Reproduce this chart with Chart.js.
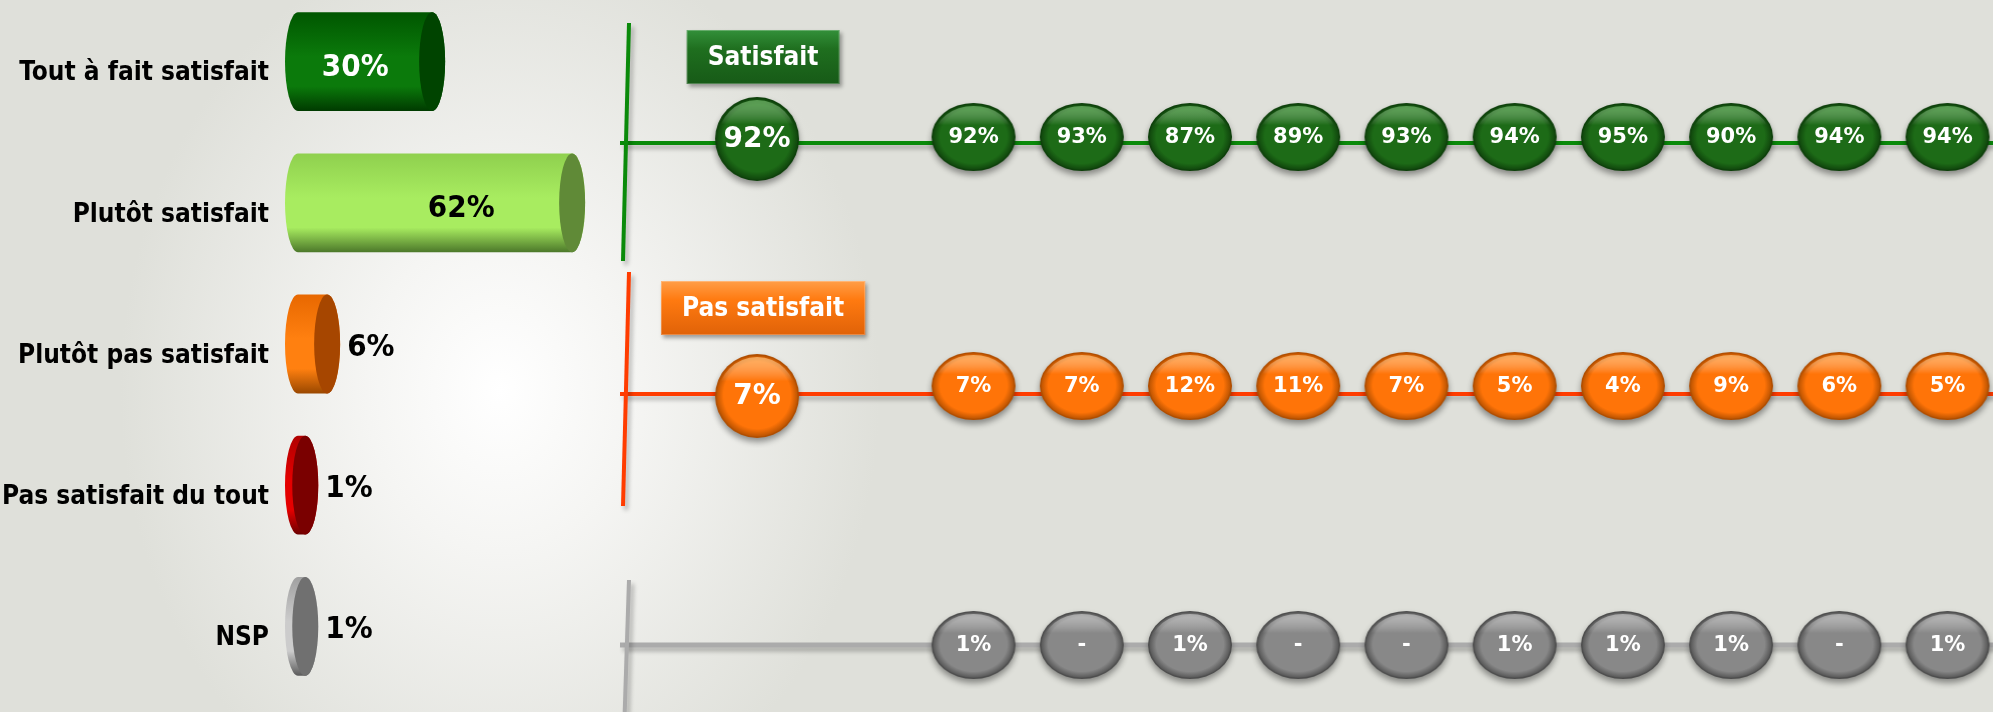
<!DOCTYPE html>
<html>
<head>
<meta charset="utf-8">
<script src="https://cdn.jsdelivr.net/npm/chart.js@4.4.0/dist/chart.umd.min.js"></script>
<style>
    html, body { margin: 0; padding: 0; }
    body {
        width: 1993px;
        height: 712px;
        overflow: hidden;
        position: relative;
        background: radial-gradient(ellipse 380px 460px at 500px 390px, #ffffff 0%, #f5f5f3 35%, #dfe0da 100%), #dfe0da;
    }
    #left { position: absolute; left: 0; top: -9px; }
    #right { position: absolute; left: 600px; top: 0; }
</style>
</head>
<body>
<canvas id="left" width="600" height="721"></canvas>
<canvas id="right" width="1393" height="712"></canvas>
<script>
// left block : distribution
const categories = ['Tout à fait satisfait', 'Plutôt satisfait', 'Plutôt pas satisfait', 'Pas satisfait du tout', 'NSP'];
const values = [30, 62, 6, 1, 1];

// right block : one row per group, one bubble per wave
const rows = ['Satisfait', 'Pas satisfait', 'NSP'];
const satisfait = [92, null, 92, 93, 87, 89, 93, 94, 95, 90, 94, 94];
const pasSatisfait = [7, null, 7, 7, 12, 11, 7, 5, 4, 9, 6, 5];
const nsp = [null, null, 1, '-', 1, '-', '-', 1, 1, 1, '-', 1];

const condensed = '"DejaVu Sans Condensed", "DejaVu Sans", sans-serif';
Chart.defaults.font.family = '"DejaVu Sans", sans-serif';

const barStyles = [
    { top: '#005600', mid: '#0b7a0b', bottom: '#003a00', cap: '#004400', text: '#ffffff' },
    { top: '#8fd04e', mid: '#a8ec60', bottom: '#4c782a', cap: '#608a37', text: '#000000' },
    { top: '#e86800', mid: '#ff8010', bottom: '#9a4800', cap: '#a64600', text: '#000000' },
    { top: '#b00000', mid: '#e40000', bottom: '#6a0000', cap: '#7a0000', text: '#000000' },
    { top: '#a0a0a0', mid: '#cccccc', bottom: '#5a5a5a', cap: '#707070', text: '#000000' }
];

const cylinders = {
    id: 'cylinders',
    afterDatasetsDraw(chart) {
        const ctx = chart.ctx;
        const meta = chart.getDatasetMeta(0);
        meta.data.forEach((bar, i) => {
            const st = barStyles[i];
            const x0 = bar.base, x1 = bar.x, yc = bar.y;
            const ry = bar.height / 2, rx = 13;
            const top = yc - ry, bot = yc + ry;
            ctx.save();
            let g = ctx.createLinearGradient(0, top, 0, bot);
            g.addColorStop(0, st.top);
            g.addColorStop(0.45, st.mid);
            g.addColorStop(0.75, st.mid);
            g.addColorStop(1, st.bottom);
            ctx.beginPath();
            ctx.moveTo(x0 + rx, top);
            ctx.lineTo(x1 - rx, top);
            ctx.ellipse(x1 - rx, yc, rx, ry, 0, -Math.PI / 2, Math.PI / 2);
            ctx.lineTo(x0 + rx, bot);
            ctx.ellipse(x0 + rx, yc, rx, ry, 0, Math.PI / 2, Math.PI * 1.5);
            ctx.closePath();
            ctx.fillStyle = g;
            ctx.fill();

            ctx.beginPath();
            ctx.ellipse(x1 - rx, yc, rx, ry, 0, 0, Math.PI * 2);
            ctx.fillStyle = st.cap;
            ctx.fill();

            ctx.font = 'bold 31px ' + condensed;
            ctx.textBaseline = 'middle';
            if (values[i] > 10) {
                ctx.fillStyle = st.text;
                ctx.textAlign = 'center';
                ctx.fillText(values[i] + '%', x0 + 0.757 * (x1 - x0) - 51, yc + 6);
            } else {
                ctx.fillStyle = '#000000';
                ctx.textAlign = 'left';
                ctx.fillText(values[i] + '%', x1 + 7, yc + 4);
            }
            ctx.restore();
        });
    }
};

new Chart(document.getElementById('left'), {
    type: 'bar',
    data: {
        labels: categories,
        datasets: [{
            data: values,
            base: -6.6,
            backgroundColor: 'rgba(0,0,0,0)',
            barPercentage: 0.7,
            categoryPercentage: 1
        }]
    },
    options: {
        indexAxis: 'y',
        responsive: false,
        animation: false,
        layout: { autoPadding: false, padding: { top: 0, bottom: 15, left: 0, right: 0 } },
        plugins: { legend: { display: false }, tooltip: { enabled: false } },
        scales: {
            x: { display: false, min: -6.6, max: 65.4 },
            y: {
                afterFit: s => {
                    s.width = 285;
                    s.paddingTop = 0;
                    s.paddingBottom = 0;
                },
                grid: { display: false, drawTicks: false },
                border: { display: false },
                ticks: { color: '#000', font: { family: condensed, size: 26, weight: 'bold' }, padding: 16, labelOffset: 12 }
            }
        }
    },
    plugins: [cylinders]
});


// glossy ellipse used as point style (dy = vertical shift of the ellipse from the point)
function bubble(w, h, dy, base, dark, light) {
    const pad = 10 + Math.abs(dy);
    const c = document.createElement('canvas');
    c.width = w + 20;
    c.height = h + pad * 2;
    c.dy = dy;
    const g = c.getContext('2d');
    const cx = c.width / 2, cy = c.height / 2 + dy, rx = w / 2, ry = h / 2;

    g.save();
    g.shadowColor = 'rgba(0,0,0,0.4)';
    g.shadowBlur = 6;
    g.shadowOffsetY = 4;
    g.beginPath();
    g.ellipse(cx, cy, rx, ry, 0, 0, Math.PI * 2);
    g.fillStyle = dark;
    g.fill();
    g.restore();

    g.save();
    g.translate(cx, cy);
    g.scale(1, ry / rx);
    const rg = g.createRadialGradient(0, -4, 0, 0, 0, rx);
    rg.addColorStop(0, base);
    rg.addColorStop(0.8, base);
    rg.addColorStop(1, dark);
    g.beginPath();
    g.arc(0, 0, rx - 1.5, 0, Math.PI * 2);
    g.fillStyle = rg;
    g.fill();
    g.restore();

    g.save();
    g.beginPath();
    g.ellipse(cx, cy, rx - 3, ry - 3, 0, 0, Math.PI * 2);
    g.clip();
    const lg = g.createLinearGradient(0, cy - ry, 0, cy - ry * 0.35);
    lg.addColorStop(0, light);
    lg.addColorStop(1, 'rgba(255,255,255,0)');
    g.fillStyle = lg;
    g.fillRect(cx - rx, cy - ry, w, ry);
    g.restore();
    return c;
}

const greenBig = bubble(84, 84, -4, '#1d6b17', '#0e400b', 'rgba(110,190,100,0.7)');
const greenSmall = bubble(84, 68, -6, '#1d6b17', '#0e400b', 'rgba(110,190,100,0.7)');
const orangeBig = bubble(84, 84, 2, '#ff7408', '#b04e00', 'rgba(255,190,110,0.8)');
const orangeSmall = bubble(84, 68, -8, '#ff7408', '#b04e00', 'rgba(255,190,110,0.8)');
const graySmall = bubble(84, 68, 0, '#888888', '#4e4e4e', 'rgba(205,205,205,0.7)');

function toPoints(arr, row) {
    return arr.map((v, i) => v === null ? null : { x: i, y: rows[row], v: v }).filter(p => p);
}

const rowColors = ['#0a8a0a', '#ff3c00', '#ababab'];
const rowSpan = [[-120, 118], [-122, 112], [-65, 120]];

const rowLines = {
    id: 'rowLines',
    beforeDatasetsDraw(chart) {
        const ctx = chart.ctx;
        const area = chart.chartArea;
        const ys = chart.scales.y;
        rows.forEach((r, i) => {
            const y = ys.getPixelForValue(i);
            const ax = area.left + 2;
            ctx.save();
            ctx.shadowColor = 'rgba(0,0,0,0.25)';
            ctx.shadowBlur = 4;
            ctx.shadowOffsetX = 3;
            ctx.shadowOffsetY = 4;
            ctx.strokeStyle = rowColors[i];
            ctx.lineWidth = i === 2 ? 5 : 4;
            ctx.beginPath();
            ctx.moveTo(area.left - 4, y);
            ctx.lineTo(area.right + 5, y);
            ctx.stroke();
            ctx.lineWidth = 4;
            ctx.beginPath();
            ctx.moveTo(ax + 3, y + rowSpan[i][0]);
            ctx.lineTo(ax - 3, y + rowSpan[i][1]);
            ctx.stroke();
            ctx.restore();
        });
    },
    afterDatasetsDraw(chart) {
        const ctx = chart.ctx;
        chart.data.datasets.forEach((ds, di) => {
            const meta = chart.getDatasetMeta(di);
            meta.data.forEach((pt, i) => {
                const raw = ds.data[i];
                const dy = pt.options.pointStyle.dy || 0;
                ctx.save();
                ctx.font = raw.x === 0 ? 'bold 28px "DejaVu Sans"' : 'bold 21px "DejaVu Sans"';
                ctx.fillStyle = '#ffffff';
                ctx.textAlign = 'center';
                ctx.textBaseline = 'middle';
                ctx.fillText(raw.v === '-' ? '-' : raw.v + '%', pt.x, pt.y + dy + 1);
                ctx.restore();
            });
        });

        // group badges
        const badgeFill = [['#33903a', '#1f6f1f', '#175a17'], ['#ff9e48', '#ff7a10', '#e06208']];
        const bx = chart.scales.x.getPixelForValue(0) + 6;
        [0, 1].forEach(i => {
            const by = chart.scales.y.getPixelForValue(i) - 86;
            ctx.save();
            ctx.font = 'bold 26px ' + condensed;
            const w = ctx.measureText(rows[i]).width + 42, h = 54;
            const g = ctx.createLinearGradient(0, by - h / 2, 0, by + h / 2);
            g.addColorStop(0, badgeFill[i][0]);
            g.addColorStop(0.35, badgeFill[i][1]);
            g.addColorStop(1, badgeFill[i][2]);
            ctx.shadowColor = 'rgba(0,0,0,0.35)';
            ctx.shadowBlur = 4;
            ctx.shadowOffsetX = 2;
            ctx.shadowOffsetY = 3;
            ctx.fillStyle = g;
            ctx.fillRect(bx - w / 2, by - h / 2, w, h);
            ctx.shadowColor = 'rgba(0,0,0,0)';
            ctx.strokeStyle = 'rgba(255,255,255,0.25)';
            ctx.lineWidth = 1;
            ctx.strokeRect(bx - w / 2 + 0.5, by - h / 2 + 0.5, w - 1, h - 1);
            ctx.fillStyle = '#ffffff';
            ctx.textAlign = 'center';
            ctx.textBaseline = 'middle';
            ctx.fillText(rows[i], bx, by + 1);
            ctx.restore();
        });
    }
};

new Chart(document.getElementById('right'), {
    type: 'line',
    data: {
        datasets: [
            {
                label: rows[0],
                data: toPoints(satisfait, 0),
                showLine: false,
                clip: false,
                pointRadius: 1,
                pointStyle: ctx => ctx.raw && ctx.raw.x === 0 ? greenBig : greenSmall
            },
            {
                label: rows[1],
                data: toPoints(pasSatisfait, 1),
                showLine: false,
                clip: false,
                pointRadius: 1,
                pointStyle: ctx => ctx.raw && ctx.raw.x === 0 ? orangeBig : orangeSmall
            },
            {
                label: rows[2],
                data: toPoints(nsp, 2),
                showLine: false,
                clip: false,
                pointRadius: 1,
                pointStyle: graySmall
            }
        ]
    },
    options: {
        responsive: false,
        animation: false,
        layout: { autoPadding: false, padding: { left: 24, top: 143, right: 0, bottom: 67 } },
        plugins: { legend: { display: false }, tooltip: { enabled: false } },
        scales: {
            x: { type: 'linear', display: false, min: -1.23, max: 11.42 },
            y: { type: 'category', labels: rows, offset: false, display: false }
        }
    },
    plugins: [rowLines]
});
</script>
</body>
</html>
